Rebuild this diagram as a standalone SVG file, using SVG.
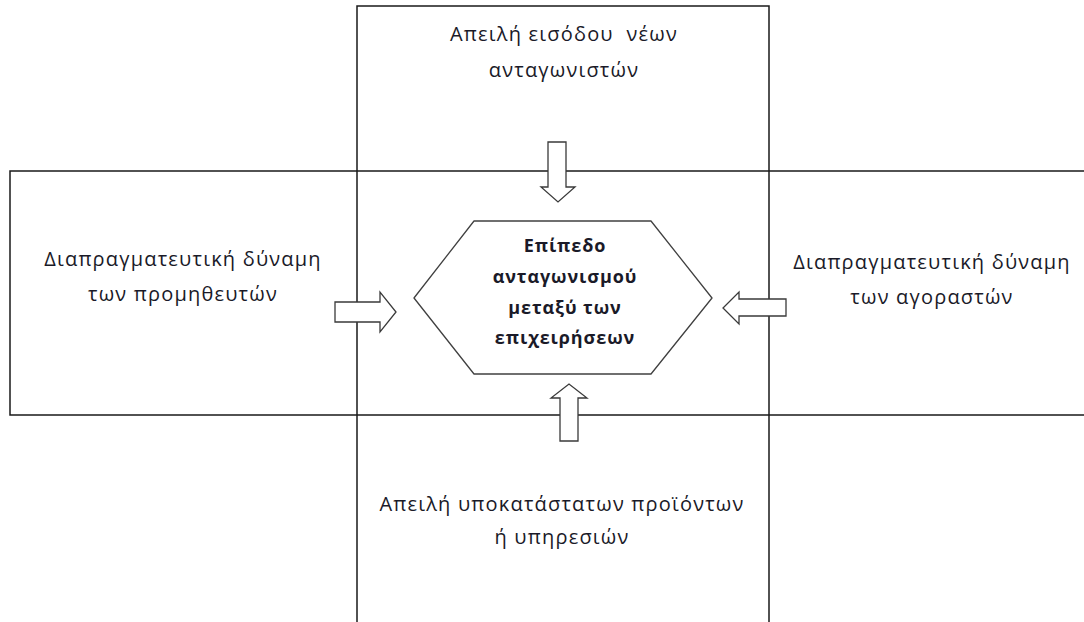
<svg xmlns="http://www.w3.org/2000/svg" width="1084" height="622" viewBox="0 0 1084 622">
  <style>
    .frame { fill: none; stroke: #1a1a1a; stroke-width: 1.5; }
    .hex { fill: #ffffff; stroke: #404040; stroke-width: 1.3; stroke-linejoin: round; }
    .arrow { fill: #ffffff; stroke: #3a3a3a; stroke-width: 1.3; stroke-linejoin: miter; }
    .lbl { font-family: "Open Sans", "Liberation Sans", sans-serif; font-size: 20px; letter-spacing: 1.2px; fill: #1a1a28; text-anchor: middle; }
    .core { font-family: "Open Sans", "Liberation Sans", sans-serif; font-size: 18px; letter-spacing: 0.9px; font-weight: bold; fill: #1a1a28; text-anchor: middle; }
  </style>
  <rect width="1084" height="622" fill="#ffffff"/>

  <!-- Vertical band: entry threat (top) and substitutes (bottom) -->
  <g id="band-vertical">
    <path class="frame" d="M357,630 V6 H769 V630"/>
  </g>
  <!-- Horizontal band: suppliers (left) and buyers (right) -->
  <g id="band-horizontal">
    <path class="frame" d="M1090,171 H10 V415 H1090"/>
  </g>

  <g id="node-entrants">
    <text class="lbl" x="564" y="41" xml:space="preserve">Απειλή εισόδου  νέων</text>
    <text class="lbl" x="564" y="77">ανταγωνιστών</text>
  </g>
  <g id="node-suppliers">
    <text class="lbl" x="183" y="266">Διαπραγματευτική δύναμη</text>
    <text class="lbl" x="183" y="301">των προμηθευτών</text>
  </g>
  <g id="node-buyers">
    <text class="lbl" x="932" y="269">Διαπραγματευτική δύναμη</text>
    <text class="lbl" x="932" y="304">των αγοραστών</text>
  </g>
  <g id="node-substitutes">
    <text class="lbl" x="562" y="511">Απειλή υποκατάστατων προϊόντων</text>
    <text class="lbl" x="562" y="544">ή υπηρεσιών</text>
  </g>

  <g id="node-rivalry">
    <polygon class="hex" points="474,221 651,221 712,298 651,374 474,374 414,298"/>
    <text class="core" x="565" y="252">Επίπεδο</text>
    <text class="core" x="565" y="283">ανταγωνισμού</text>
    <text class="core" x="565" y="314">μεταξύ των</text>
    <text class="core" x="565" y="344">επιχειρήσεων</text>
  </g>

  <!-- Block arrows pointing at the central rivalry hexagon -->
  <g id="connectors">
    <polygon class="arrow" points="548,142 566,142 566,187 575,187 558,202 541,187 548,187"/>
    <polygon class="arrow" points="335,302 380,302 380,292 396,312 380,332 380,322 335,322"/>
    <polygon class="arrow" points="786,299 739,299 739,292 723,308 739,324 739,316 786,316"/>
    <polygon class="arrow" points="560,441 578,441 578,398 587,398 569,384 551,398 560,398"/>
  </g>
</svg>
